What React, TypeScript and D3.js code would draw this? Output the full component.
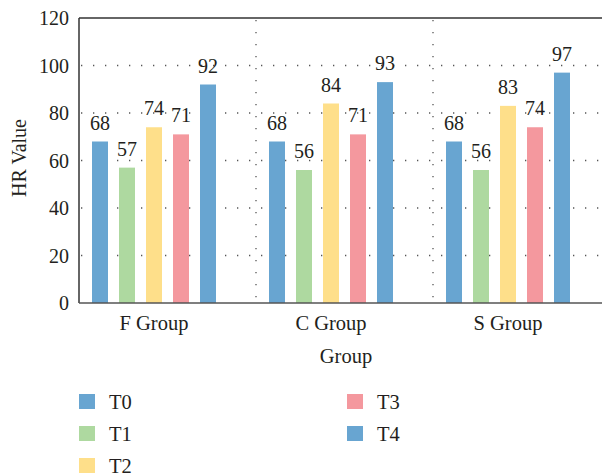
import React from "react";
import * as d3 from "d3";

const groups = ["F Group", "C Group", "S Group"];
const seriesNames = ["T0", "T1", "T2", "T3", "T4"];
const T0 = [68, 68, 68];
const T1 = [57, 56, 56];
const T2 = [74, 84, 83];
const T3 = [71, 71, 74];
const T4 = [92, 93, 97];
const seriesValues = [T0, T1, T2, T3, T4];
const colors = ["#68a5d1", "#aed9a0", "#fedf8a", "#f4989e", "#68a5d1"];
const yTicks = [0, 20, 40, 60, 80, 100, 120];

const W = 602;
const H = 476;
const left = 79;
const top = 18;
const bottom = 303;
const groupW = 177;
const font = "Liberation Serif, Tinos, Times New Roman, DejaVu Serif, serif";
const textColor = "#231f20";

export default function App() {
  const x0 = d3
    .scaleBand<string>()
    .domain(groups)
    .range([left, left + groupW * groups.length]);
  const x1 = d3
    .scaleBand<string>()
    .domain(seriesNames)
    .range([13, 137])
    .paddingInner(11 / 27)
    .paddingOuter(0);
  const y = d3.scaleLinear().domain([0, 120]).range([bottom, top]);

  const legendItems = seriesNames.map((s, i) => {
    const col = i < 3 ? 0 : 1;
    const row = i < 3 ? i : i - 3;
    return { s, i, x: col === 0 ? 79 : 347, y: 394 + row * 32 };
  });

  const ts = { fontFamily: font };

  return (
    <svg
      width={W}
      height={H}
      style={{ position: "absolute", left: 0, top: 0, background: "#fff", fontFamily: font }}
    >
      {yTicks
        .filter((t) => t > 0 && t < 120)
        .map((t) => (
          <line
            key={"g" + t}
            x1={left + 2}
            x2={W}
            y1={y(t)}
            y2={y(t)}
            stroke="#555"
            strokeWidth={1.3}
            strokeDasharray="1.3 10.7"
          />
        ))}
      {groups.slice(1).map((g) => (
        <line
          key={"v" + g}
          x1={x0(g)!}
          x2={x0(g)!}
          y1={top + 2}
          y2={bottom}
          stroke="#555"
          strokeWidth={1.3}
          strokeDasharray="1.3 10.7"
        />
      ))}
      {groups.map((g, gi) =>
        seriesNames.map((s, si) => {
          const v = seriesValues[si][gi];
          const bx = x0(g)! + x1(s)!;
          return (
            <g key={g + s}>
              <rect
                x={bx}
                y={y(v)}
                width={x1.bandwidth()}
                height={bottom - y(v)}
                fill={colors[si]}
              />
              <text
                x={bx + x1.bandwidth() / 2}
                y={y(v) - 12}
                textAnchor="middle"
                fontSize={20}
                fill={textColor}
                style={ts}
              >
                {v}
              </text>
            </g>
          );
        })
      )}
      <line x1={left} x2={W} y1={top} y2={top} stroke="#333" strokeWidth={1.5} />
      <line x1={left} x2={left} y1={top} y2={bottom} stroke="#333" strokeWidth={1.5} />
      <line x1={left} x2={W} y1={bottom} y2={bottom} stroke="#555" strokeWidth={1.5} />
      {yTicks.map((t) => (
        <text
          key={"t" + t}
          x={69}
          y={y(t)}
          dy="0.35em"
          textAnchor="end"
          fontSize={20}
          fill={textColor}
          style={ts}
        >
          {t}
        </text>
      ))}
      {groups.map((g) => (
        <text
          key={"l" + g}
          x={x0(g)! + 75}
          y={330}
          textAnchor="middle"
          fontSize={20.5}
          fill={textColor}
          style={ts}
        >
          {g}
        </text>
      ))}
      <text x={346} y={363} textAnchor="middle" fontSize={20.5} fill={textColor} style={ts}>
        Group
      </text>
      <text
        transform="translate(26,158) rotate(-90)"
        textAnchor="middle"
        fontSize={20}
        fill={textColor}
        style={ts}
      >
        HR Value
      </text>
      {legendItems.map((it) => (
        <g key={"lg" + it.s}>
          <rect x={it.x} y={it.y} width={16} height={15} fill={colors[it.i]} />
          <text x={it.x + 30} y={it.y + 14.5} fontSize={20.5} fill={textColor} style={ts}>
            {it.s}
          </text>
        </g>
      ))}
    </svg>
  );
}
